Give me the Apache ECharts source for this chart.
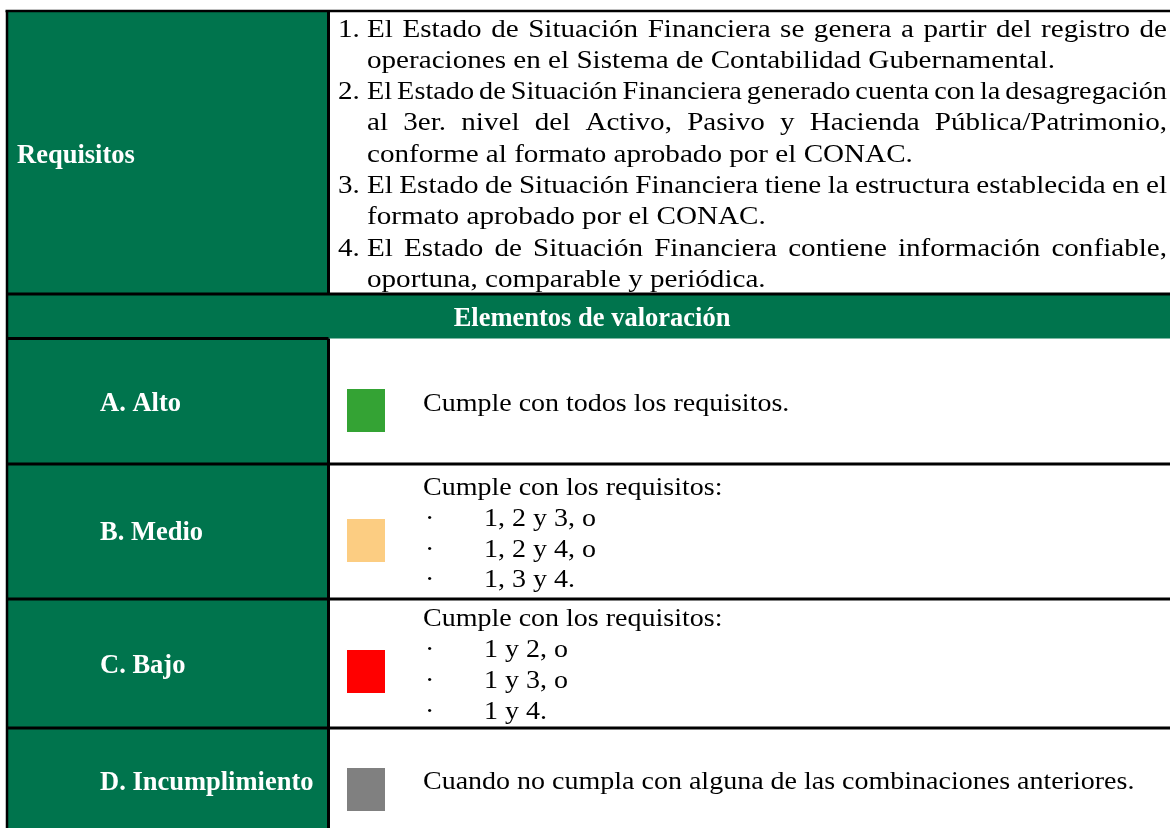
<!DOCTYPE html>
<html><head><meta charset="utf-8">
<script src="https://cdn.jsdelivr.net/npm/echarts@6/dist/echarts.min.js"></script>
<style>html,body{margin:0;padding:0;background:#fff}#c{width:1170px;height:828px}</style>
</head><body><div id="c"></div>
<script>
// ---------- DATA ----------
const sectionLabel = 'Requisitos';
const headerTitle = 'Elementos de valoración';
const requirementNumbers = ['1.', '2.', '3.', '4.'];
const requirementLines = [
  ['El Estado de Situación Financiera se genera a partir del registro de',
   'operaciones en el Sistema de Contabilidad Gubernamental.'],
  ['El Estado de Situación Financiera generado cuenta con la desagregación',
   'al 3er. nivel del Activo, Pasivo y Hacienda Pública/Patrimonio,',
   'conforme al formato aprobado por el CONAC.'],
  ['El Estado de Situación Financiera tiene la estructura establecida en el',
   'formato aprobado por el CONAC.'],
  ['El Estado de Situación Financiera contiene información confiable,',
   'oportuna, comparable y periódica.']
];
const levelNames = ['A. Alto', 'B. Medio', 'C. Bajo', 'D. Incumplimiento'];
const levelIntro = ['Cumple con todos los requisitos.', 'Cumple con los requisitos:',
  'Cumple con los requisitos:', 'Cuando no cumpla con alguna de las combinaciones anteriores.'];
const levelItems = [[], ['1, 2 y 3, o', '1, 2 y 4, o', '1, 3 y 4.'], ['1 y 2, o', '1 y 3, o', '1 y 4.'], []];
const levelColors = ['#34a334', '#fccd82', '#ff0000', '#808080'];
const bulletChar = '·';

// ---------- LAYOUT / STYLE ----------
const GREEN = '#00744d';
const INK = '#000000';
const SERIF = '"Liberation Serif", "Times New Roman", serif';
const LEFT = 7, TOP = 11, SPLIT = 328.5, REQ_BOTTOM = 294, HEAD_BOTTOM = 338.5;
const ROW_LINES = [464, 599, 728];
const LW = 3;
const NUM_X = 338, TEXT_X = 367, JUST_R = 1167, MIN_GAP = 5;
const REQ_FS = 26, REQ_SX = 1.12, REQ_B0 = 36.5, REQ_LH = 31.3;
const LOW_FS = 25, LOW_SX = 1.12;
const LABEL_FS = 26.5;
const LABEL_X = 100, LOW_X = 423, BULLET_X = 425, ITEM_X = 484;
const labelBaselines = [411, 540, 673, 790];
const lowBaselines = [[411], [495, 526, 557, 587], [626, 657, 688, 719], [789]];
const swatchTops = [389, 519, 650, 768];
const SW_X = 347, SW_W = 38, SW_H = 43;
const BASE_SHIFT = 0.26;

const cv = document.createElement('canvas').getContext('2d');
function measure(s, font) { cv.font = font; return cv.measureText(s).width; }

function text(str, x, baseline, fs, opts) {
  opts = opts || {};
  const weight = opts.bold ? 'bold ' : '';
  const font = weight + fs + 'px ' + SERIF;
  return {
    type: 'text', x: x, y: baseline - BASE_SHIFT * fs, scaleX: opts.sx || 1, z: 10,
    style: {
      text: str, x: 0, y: 0, font: font, fill: opts.color || INK,
      textAlign: opts.align || 'left', textVerticalAlign: 'middle',
      align: opts.align || 'left', verticalAlign: 'middle'
    }
  };
}
function line(x1, y1, x2, y2, w) {
  return { type: 'line', z: 5, shape: { x1, y1, x2, y2 }, style: { stroke: '#000', lineWidth: w || LW } };
}

const els = [];
// backgrounds
els.push({ type: 'rect', z: 1, shape: { x: LEFT, y: TOP, width: SPLIT - LEFT, height: 840 }, style: { fill: GREEN } });
els.push({ type: 'rect', z: 1, shape: { x: LEFT, y: REQ_BOTTOM, width: 1200, height: HEAD_BOTTOM - REQ_BOTTOM }, style: { fill: GREEN } });
// borders
els.push(line(LEFT - 1.5, TOP, 1175, TOP, 2.5));
els.push(line(LEFT, TOP, LEFT, 840, 2.5));
els.push(line(SPLIT, TOP, SPLIT, REQ_BOTTOM));
els.push(line(SPLIT, HEAD_BOTTOM, SPLIT, 840));
els.push(line(LEFT, REQ_BOTTOM, 1175, REQ_BOTTOM));
els.push(line(LEFT, HEAD_BOTTOM, SPLIT, HEAD_BOTTOM));
ROW_LINES.forEach(y => els.push(line(LEFT, y, 1175, y)));

// Requisitos label + header
els.push(text(sectionLabel, 17, 163, LABEL_FS, { bold: true, color: '#fff' }));
els.push(text(headerTitle, 592, 326, LABEL_FS, { bold: true, color: '#fff', align: 'center' }));

// requirement lines
const reqFont = REQ_FS + 'px ' + SERIF;
let li = 0;
requirementLines.forEach((lines, pi) => {
  lines.forEach((ln, k) => {
    const b = REQ_B0 + REQ_LH * li;
    if (k === 0) els.push(text(requirementNumbers[pi], NUM_X, b, REQ_FS, { sx: REQ_SX }));
    const justify = k < lines.length - 1;
    if (!justify) {
      els.push(text(ln, TEXT_X, b, REQ_FS, { sx: REQ_SX }));
    } else {
      const words = ln.split(' ');
      const raw = words.map(w => measure(w, reqFont));
      const rawTot = raw.reduce((a, c) => a + c, 0);
      const avail = JUST_R - TEXT_X;
      let sx = REQ_SX;
      let gap = (avail - rawTot * sx) / (words.length - 1);
      if (gap < MIN_GAP) { gap = MIN_GAP; sx = (avail - MIN_GAP * (words.length - 1)) / rawTot; }
      let x = TEXT_X;
      words.forEach((w, i) => { els.push(text(w, x, b, REQ_FS, { sx: sx })); x += raw[i] * sx + gap; });
    }
    li++;
  });
});

// levels
levelNames.forEach((name, i) => {
  els.push(text(name, LABEL_X, labelBaselines[i], LABEL_FS, { bold: true, color: '#fff' }));
  els.push({ type: 'rect', z: 3, shape: { x: SW_X, y: swatchTops[i], width: SW_W, height: SW_H }, style: { fill: levelColors[i] } });
  const bl = lowBaselines[i];
  els.push(text(levelIntro[i], LOW_X, bl[0], LOW_FS, { sx: LOW_SX }));
  levelItems[i].forEach((it, j) => {
    els.push(text(bulletChar, BULLET_X, bl[j + 1], LOW_FS, { sx: LOW_SX }));
    els.push(text(it, ITEM_X, bl[j + 1], LOW_FS, { sx: LOW_SX }));
  });
});

const chart = echarts.init(document.getElementById('c'), null, { renderer: 'canvas' });
chart.setOption({ backgroundColor: '#fff', animation: false, graphic: { elements: els } });
</script></body></html>
